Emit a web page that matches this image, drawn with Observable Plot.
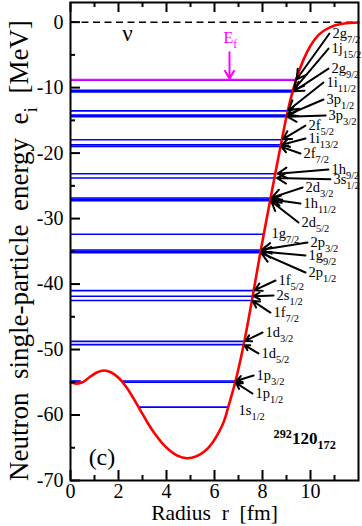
<!DOCTYPE html>
<html><head><meta charset="utf-8">
<script src="https://cdn.jsdelivr.net/npm/d3@7"></script>
<script src="https://cdn.jsdelivr.net/npm/@observablehq/plot@0.6"></script>
<style>body{margin:0;background:#fff} svg{display:block}</style>
</head><body><div id="chart"></div>
<script>
// Mean-field potential (radius in fm, energy in MeV)
const potR = [0, 0.25, 0.5, 0.8, 1.1, 1.4, 1.7, 2.0, 2.3, 2.6, 2.9, 3.2, 3.5, 3.8, 4.1, 4.45, 4.85, 5.25, 5.6, 5.9, 6.2, 6.4, 6.57, 6.87, 7.22, 7.56, 7.92, 8.33, 8.75, 9.05, 9.4, 9.7, 10.0, 10.3, 10.6, 11.0, 11.4, 12.0];
const potV = [-55.0, -55.2, -55.0, -54.2, -53.5, -53.2, -53.5, -54.3, -55.6, -57.3, -59.2, -61.1, -62.8, -64.2, -65.3, -66.2, -66.6, -66.3, -65.5, -64.3, -62.5, -60.9, -58.8, -54.9, -49.2, -42.5, -35.0, -27.0, -19.0, -13.6, -8.8, -5.8, -3.6, -2.1, -1.2, -0.5, -0.2, -0.05];

// Single-particle levels
const levelNames = ["2g_{7/2}","1j_{15/2}","2g_{9/2}","1i_{11/2}","3p_{1/2}","3p_{3/2}","2f_{5/2}","1i_{13/2}","2f_{7/2}","1h_{9/2}","3s_{1/2}","2d_{3/2}","1h_{11/2}","2d_{5/2}","1g_{7/2}","2p_{3/2}","1g_{9/2}","2p_{1/2}","1f_{5/2}","2s_{1/2}","1f_{7/2}","1d_{3/2}","1d_{5/2}","1p_{3/2}","1p_{1/2}","1s_{1/2}"];
const levelE  = [-8.85, -10.4, -10.65, -13.55, -14.2, -14.45, -17.95, -18.75, -19.0, -23.15, -23.8, -26.85, -27.05, -27.25, -32.4, -34.8, -35.0, -35.2, -41.0, -41.85, -42.5, -48.75, -49.25, -54.8, -55.0, -58.8];
const levelR1 = [0, 0, 0, 0, 0, 0, 0, 0, 0, 0, 0, 0, 0, 0, 0, 0, 0, 0, 0, 0, 0, 0, 0, 2.12, 2.16, 2.84];
const levelR2 = [9.40, 9.29, 9.27, 9.05, 9.01, 8.99, 8.82, 8.77, 8.75, 8.59, 8.56, 8.35, 8.34, 8.33, 8.05, 7.93, 7.92, 7.91, 7.64, 7.59, 7.56, 7.25, 7.22, 6.88, 6.86, 6.57];
// small inner pieces of the 1p levels (inside the central dip)
const innerE  = [-54.8, -55.0];
const innerR1 = [0, 0];
const innerR2 = [0.45, 0.42];

// Label anchor points (r, e) and whether an arrow points to the level
const labelR = [10.79, 10.75, 10.75, 10.54, 10.54, 10.63, 9.79, 9.79, 9.58, 10.75, 10.83, 9.67, 9.58, 9.5, 8.25, 9.875, 9.79, 9.79, 8.54, 8.46, 8.33, 8.0, 7.83, 7.63, 7.58, 6.875];
const labelE = [-1.74, -4.03, -7.09, -9.22, -11.82, -14.26, -15.79, -17.78, -20.07, -22.5, -24.0, -25.26, -27.7, -30.6, -32.28, -33.66, -35.64, -38.24, -39.46, -41.75, -44.35, -47.4, -50.6, -53.96, -56.71, -59.3];
const labelArrow = [1,1,1,1,1,1,1,1,1,1,1,1,1,1,0,1,1,1,1,1,1,1,1,1,1,0];

// Fermi level
const fermiE = -8.8;
const fermiR2 = 9.40;

const xTicksMajor = [0, 2, 4, 6, 8, 10];
const xTicksMinor = [1, 3, 5, 7, 9, 11];
const yTicksMajor = [0, -10, -20, -30, -40, -50, -60, -70];
const yTicksMinor = [-5, -15, -25, -35, -45, -55, -65];

const potential = potR.map((r, i) => ({r, v: potV[i]}));
const levels = levelNames.map((name, i) => ({name, e: levelE[i], r1: levelR1[i], r2: levelR2[i], lr: labelR[i], le: labelE[i], arrow: labelArrow[i]}));
const inner = innerE.map((e, i) => ({e, r1: innerR1[i], r2: innerR2[i]}));

const serif = "Liberation Serif";
const W = 288, H = 478;

const chart = Plot.plot({
  width: 362, height: 526,
  marginLeft: 70, marginRight: 4, marginTop: 2, marginBottom: 46,
  x: {domain: [0, 12]},
  y: {domain: [-70, 3]},
  style: {fontFamily: "'Liberation Serif', serif", background: "white", color: "black"},
  marks: [
    Plot.ruleY([0], {stroke: "black", strokeWidth: 1.5, strokeDasharray: "7,4.5"}),
    Plot.ruleY(levels, {y: "e", x1: "r1", x2: "r2", stroke: "#0000ff", strokeWidth: 1.6}),
    Plot.ruleY(inner, {y: "e", x1: "r1", x2: "r2", stroke: "#0000ff", strokeWidth: 1.6}),
    Plot.ruleY([fermiE], {x1: 0, x2: fermiR2, stroke: "#ff00ff", strokeWidth: 2}),
    Plot.line(potential, {x: "r", y: "v", stroke: "#ff0000", strokeWidth: 2.6, curve: "catmull-rom"}),
    Plot.arrow(levels.filter(d => d.arrow), {x1: "lr", y1: "le", x2: "r2", y2: "e", stroke: "black", strokeWidth: 2, headLength: 8, insetEnd: 1}),
    Plot.arrow([{x: 6.625, y1: -4.6, y2: fermiE}], {x1: "x", x2: "x", y1: "y1", y2: "y2", stroke: "#ff00ff", strokeWidth: 2, headLength: 8, insetEnd: 1}),
    Plot.text(levels, {x: "lr", y: "le", text: "name", textAnchor: "start", dx: 3, fontSize: 14.5, fontFamily: serif, fill: "black"}),
    Plot.text(["E_{f}"], {x: 6.375, y: -2.35, textAnchor: "start", fontSize: 16, fontFamily: serif, fill: "#ff00ff"}),
    Plot.text(["\u03bd"], {x: 2.375, y: -1.74, fontSize: 23, fontFamily: serif, fill: "black"}),
    Plot.text(["(c)"], {x: 1.31, y: -66.5, fontSize: 24, fontFamily: serif, fill: "black"}),
    Plot.text(["^{292}120_{172}"], {x: 8.46, y: -63.6, textAnchor: "start", fontSize: 17, fontWeight: "bold", fontFamily: serif, fill: "black"}),
    // inward ticks
    Plot.tickY(yTicksMajor, {y: d => d, insetRight: W - 10, stroke: "black", strokeWidth: 2}),
    Plot.tickY(yTicksMinor, {y: d => d, insetRight: W - 5, stroke: "black", strokeWidth: 2}),
    Plot.tickX(xTicksMajor, {x: d => d, insetTop: H - 10, stroke: "black", strokeWidth: 2}),
    Plot.tickX(xTicksMinor, {x: d => d, insetTop: H - 5, stroke: "black", strokeWidth: 2}),
    Plot.tickX(xTicksMajor, {x: d => d, insetBottom: H - 10, stroke: "black", strokeWidth: 2}),
    Plot.tickX(xTicksMinor, {x: d => d, insetBottom: H - 5, stroke: "black", strokeWidth: 2}),
    Plot.frame({stroke: "black", strokeWidth: 2}),
    Plot.axisY({ticks: yTicksMajor, tickSize: 0, tickPadding: 7, fontSize: 20, fontFamily: serif, tickFormat: d => `${d}`, label: null}),
    Plot.axisX({ticks: xTicksMajor, tickSize: 0, tickPadding: 3, fontSize: 20, fontFamily: serif, tickFormat: d => `${d}`, label: null}),
    Plot.text(["Radius  r  [fm]"], {frameAnchor: "bottom", dy: 33, textAnchor: "middle", lineAnchor: "middle", fontSize: 21.5, fontFamily: serif, fill: "black"}),
    Plot.text(["Neutron  single-particle  energy  e_{i}  [MeV]"], {frameAnchor: "left", dx: -51, dy: 9, rotate: -90, textAnchor: "middle", lineAnchor: "middle", fontSize: 27, fontFamily: serif, fill: "black"})
  ]
});

document.getElementById("chart").appendChild(chart);

// rich text: _{...} subscript, ^{...} superscript
d3.select(chart).selectAll("text").each(function () {
  const t = this.textContent;
  if (!/[_^]\{/.test(t)) return;
  const fs = parseFloat(getComputedStyle(this).fontSize) || 15;
  const parts = t.split(/([_^]\{[^}]*\})/).filter(s => s.length);
  const el = d3.select(this);
  el.text(null);
  let cur = 0;
  for (const p of parts) {
    let target = 0, txt = p, small = false;
    if (p[0] === "_") { target = 0.32 * fs; txt = p.slice(2, -1); small = true; }
    else if (p[0] === "^") { target = -0.38 * fs; txt = p.slice(2, -1); small = true; }
    const ts = el.append("tspan").text(txt);
    if (target - cur !== 0) ts.attr("dy", (target - cur) + "px");
    if (small) ts.attr("font-size", (0.72 * fs) + "px");
    cur = target;
  }
});
d3.select(chart).selectAll("text").style("white-space", "pre");
</script>
</body></html>
